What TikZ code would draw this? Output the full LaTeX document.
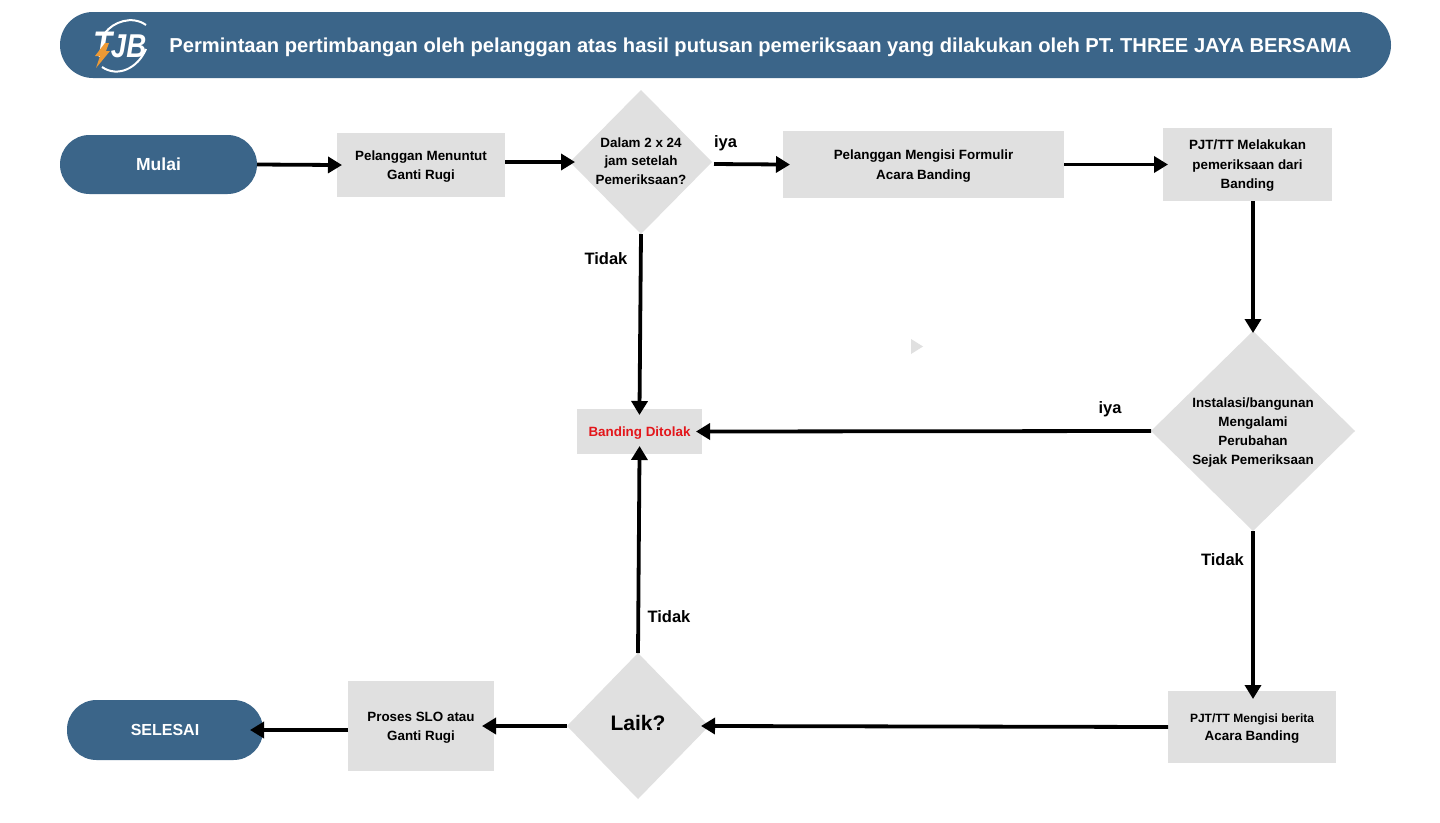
\documentclass[tikz,border=0pt]{standalone}
\usepackage{fontspec}
\setmainfont{Liberation Sans}
\usepackage{xcolor}
\usetikzlibrary{positioning,arrows.meta,shapes.geometric}
\definecolor{tjbblue}{HTML}{3B6589}
\definecolor{boxgray}{HTML}{E0E0E0}
\definecolor{tolakred}{HTML}{E3161B}
\definecolor{boltorange}{HTML}{EE9A35}

\begin{document}
\begin{tikzpicture}[
  x=1pt,y=-1pt,
  every node/.style={font=\bfseries\fontsize{13.4}{19.5}\selectfont,inner sep=0pt,outer sep=0pt},
  process/.style={fill=boxgray,align=center,text depth=-1pt},
  decision/.style={diamond,fill=boxgray,aspect=1},
  terminal/.style={rounded corners=29.5pt,fill=tjbblue,text=white,align=center},
  answer/.style={font=\bfseries\fontsize{16.5}{18}\selectfont},
  arrow/.style={-{Triangle[length=14pt,width=16pt]},line width=3.8pt,shorten >=-5pt}
]
  \useasboundingbox (0,0) rectangle (1440,822);
  \fill[white] (0,0) rectangle (1440,822);

  % header
  \node[terminal,rounded corners=33pt,minimum width=1331pt,minimum height=66pt] (header) at (725.5,45) {};
  \node[text=white,font=\bfseries\fontsize{20.15}{22}\selectfont] (title) at (760.5,47.5)
    {Permintaan pertimbangan oleh pelanggan atas hasil putusan pemeriksaan yang dilakukan oleh PT. THREE JAYA BERSAMA};
  \node[text=white,xscale=.84,transform shape,font=\bfseries\itshape\fontsize{33}{34}\selectfont] (logo) at (120,45) {{\fontsize{37}{34}\selectfont T}\kern-2pt JB};
  \draw[white,line width=2pt] (105,33) .. controls (113,22) and (132,15) .. (146,25);
  \draw[white,line width=2pt] (102,67) .. controls (118,78) and (138,68) .. (146,49);
  \fill[boltorange] (105,43) -- (109,43) -- (106,51) -- (110,51) -- (96,68) -- (100,56) -- (95,56) -- cycle;

  % top row
  \node[terminal,minimum width=197pt,minimum height=59pt] (mulai) at (158.5,164.5) {\fontsize{17.5}{19}\selectfont Mulai};
  \node[process,minimum width=168pt,minimum height=64pt] (tuntut) at (421,165) {Pelanggan Menuntut\\Ganti Rugi};
  \node[decision,minimum width=142pt,minimum height=144pt,
    label={[align=center,yshift=1pt,font=\bfseries\fontsize{13.4}{18.5}\selectfont]center:Dalam 2 x 24\\jam setelah\\Pemeriksaan?}] (jam) at (641,162) {};
  \node[process,minimum width=281pt,minimum height=67pt] (formulir) at (923.5,164.5) {Pelanggan Mengisi Formulir\\Acara Banding};
  \node[process,minimum width=169pt,minimum height=73pt] (periksa) at (1247.5,164.5) {PJT/TT Melakukan\\pemeriksaan dari\\Banding};

  % middle row
  \node[process,minimum width=125pt,minimum height=45pt,text=tolakred] (tolak) at (639.5,431.5) {Banding Ditolak};
  \node[decision,minimum width=204pt,minimum height=200pt,
    label={[align=center,yshift=-2pt,font=\bfseries\fontsize{13.4}{19}\selectfont]center:Instalasi/bangunan\\Mengalami\\Perubahan\\Sejak Pemeriksaan}] (ubah) at (1253,431) {};

  % bottom row
  \node[terminal,minimum width=196pt,minimum height=60pt,font=\bfseries\fontsize{16}{18}\selectfont] (selesai) at (165,730) {SELESAI};
  \node[process,minimum width=146pt,minimum height=90pt,font=\bfseries\fontsize{13.4}{19}\selectfont] (proses) at (421,726) {Proses SLO atau\\Ganti Rugi};
  \node[decision,minimum width=142pt,minimum height=146pt,
    label={[yshift=3pt,font=\bfseries\fontsize{21}{24}\selectfont]center:Laik?}] (laik) at (638,726) {};
  \node[process,minimum width=168pt,minimum height=72pt,font=\bfseries\fontsize{12}{18}\selectfont] (berita) at (1252,727) {PJT/TT Mengisi berita\\{\fontsize{13.4}{18}\selectfont Acara Banding}};

  % answers
  \node[answer] (ya1) at (725.5,143.5) {iya};
  \node[answer] (no1) at (606,259) {Tidak};
  \node[answer] (ya2) at (1110,409.5) {iya};
  \node[answer] (no2) at (1222.5,560) {Tidak};
  \node[answer] (no3) at (669,617) {Tidak};

  % small mark
  \fill[boxgray] (911,339) -- (923,346.5) -- (911,354) -- cycle;

  \draw[arrow] (mulai.east) -- (tuntut.west);
  \draw[arrow] (tuntut.east |- jam) -- (jam.west);
  \draw[arrow,shorten >=-7pt,shorten <=2pt] (jam.east) ++(0,2) -- (formulir.west);
  \draw[arrow] (formulir.east) -- (periksa.west);
  \draw[arrow,shorten >=-2pt] (periksa.south -| ubah.north) -- (ubah.north);
  \draw[arrow,shorten >=-6pt] (ubah.west) -- (tolak.east);
  \draw[arrow,shorten >=-6pt] (jam.south) -- (tolak.north);
  \draw[arrow,shorten >=-8pt] (ubah.south) -- (ubah.south |- berita.north);
  \draw[arrow,shorten >=-8pt] (berita.west) -- (laik.east);
  \draw[arrow,shorten >=-8pt] (laik.north) -- (tolak.south);
  \draw[arrow,shorten >=-12pt] (laik.west) -- (proses.east |- laik.west);
  \draw[arrow,shorten >=-13pt] (proses.west |- selesai.east) -- (selesai.east);
\end{tikzpicture}
\end{document}
